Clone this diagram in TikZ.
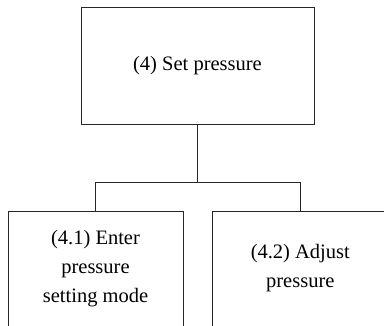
\documentclass[tikz,border=0pt]{standalone}
\usepackage{fontspec}
\setmainfont{Liberation Serif}
\usetikzlibrary{positioning, calc}

\begin{document}
\begin{tikzpicture}[
        x=1pt, y=1pt,
        task/.style={draw=black!85, line width=0.8pt, minimum width=233pt, minimum height=117pt, inner sep=0pt, font=\fontsize{20.5}{29}\selectfont},
        subtask/.style={draw=black!85, line width=0.8pt, minimum width=175pt, minimum height=115pt, inner sep=0pt, align=center, font=\fontsize{20.5}{29}\selectfont}
    ]
        \useasboundingbox (0,0) rectangle (384,325);
        \clip (0,0) rectangle (384,325);

        \node[task] (set) at (197.5,259.5) {(4) Set pressure};
        \node[subtask] (enter) at (95.5,56.5) {(4.1) Enter\\pressure\\setting mode};
        \node[subtask, right=29pt of enter] (adjust) {(4.2) Adjust\\pressure};

        \coordinate (fork) at (set.south |- 0,143);
        \draw[black!85, line width=0.8pt] (set.south) -- (fork);
        \draw[black!85, line width=0.8pt] (fork) -| (enter.north);
        \draw[black!85, line width=0.8pt] (fork) -| (adjust.north);
    \end{tikzpicture}
\end{document}
